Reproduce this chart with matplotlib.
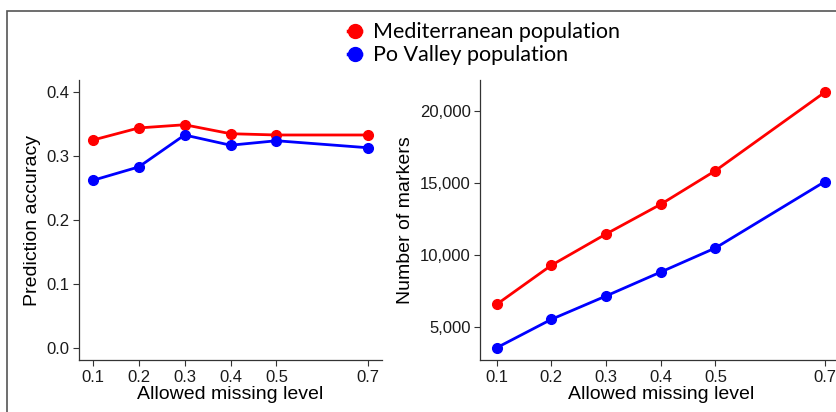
import matplotlib
matplotlib.use('Agg')
import matplotlib.pyplot as plt
from matplotlib.lines import Line2D
from matplotlib.patches import Rectangle

missing = [0.1, 0.2, 0.3, 0.4, 0.5, 0.7]

acc_med = [0.325, 0.344, 0.349, 0.335, 0.333, 0.333]
acc_po = [0.262, 0.283, 0.333, 0.317, 0.324, 0.313]

markers_med = [6570, 9280, 11450, 13510, 15840, 21280]
markers_po = [3560, 5530, 7150, 8810, 10480, 15080]

groups = ['Mediterranean population', 'Po Valley population']
colors = ['#ff0000', '#0000ff']

plt.rcParams['font.family'] = ['Liberation Sans', 'DejaVu Sans']

fig = plt.figure(figsize=(8.37, 4.12), dpi=100)

# frame around the whole panel
fig.patches.append(Rectangle((7 / 837, -0.05), 1.1, 1 - 11 / 412 + 0.05,
                             transform=fig.transFigure, fill=False,
                             edgecolor='#555555', linewidth=1.2))

ax0 = fig.add_axes([0.0944, 0.1262, 0.3620, 0.6796])
ax1 = fig.add_axes([0.5738, 0.1262, 0.4312, 0.6796])


def style(ax):
    for s in ['top', 'right']:
        ax.spines[s].set_visible(False)
    for s in ['left', 'bottom']:
        ax.spines[s].set_color('#333333')
        ax.spines[s].set_linewidth(0.9)
    ax.tick_params(direction='out', length=4, width=0.8, color='#333333',
                   labelsize=12, labelcolor='#1a1a1a', pad=3)
    ax.set_xticks(missing)
    ax.set_xticklabels([str(m) for m in missing])
    ax.set_xlim(0.07, 0.73)
    ax.set_xlabel('Allowed missing level', fontsize=14, labelpad=1)


for vals, c in zip([acc_med, acc_po], colors):
    ax0.plot(missing, vals, color=c, lw=2, marker='o', ms=7)
style(ax0)
ax0.set_ylim(-0.019, 0.419)
ax0.set_yticks([0.0, 0.1, 0.2, 0.3, 0.4])
ax0.set_yticklabels(['0.0', '0.1', '0.2', '0.3', '0.4'])
ax0.set_ylabel('Prediction accuracy', fontsize=14, labelpad=4)

for vals, c in zip([markers_med, markers_po], colors):
    ax1.plot(missing, vals, color=c, lw=2, marker='o', ms=7)
style(ax1)
ax1.set_ylim(2710, 22130)
ax1.set_yticks([5000, 10000, 15000, 20000])
ax1.set_yticklabels(['5,000', '10,000', '15,000', '20,000'])
ax1.set_ylabel('Number of markers', fontsize=14, labelpad=4)

handles = [Line2D([0], [0], color=c, lw=2.5, marker='o', ms=10) for c in colors]
fig.legend(handles, groups, loc='upper left', bbox_to_anchor=(0.393, 0.993),
           frameon=False, handlelength=0.6, handletextpad=0.55,
           labelspacing=0.15, prop={'family': 'Lato', 'size': 15.5})

fig.savefig('out.png', dpi=100)
